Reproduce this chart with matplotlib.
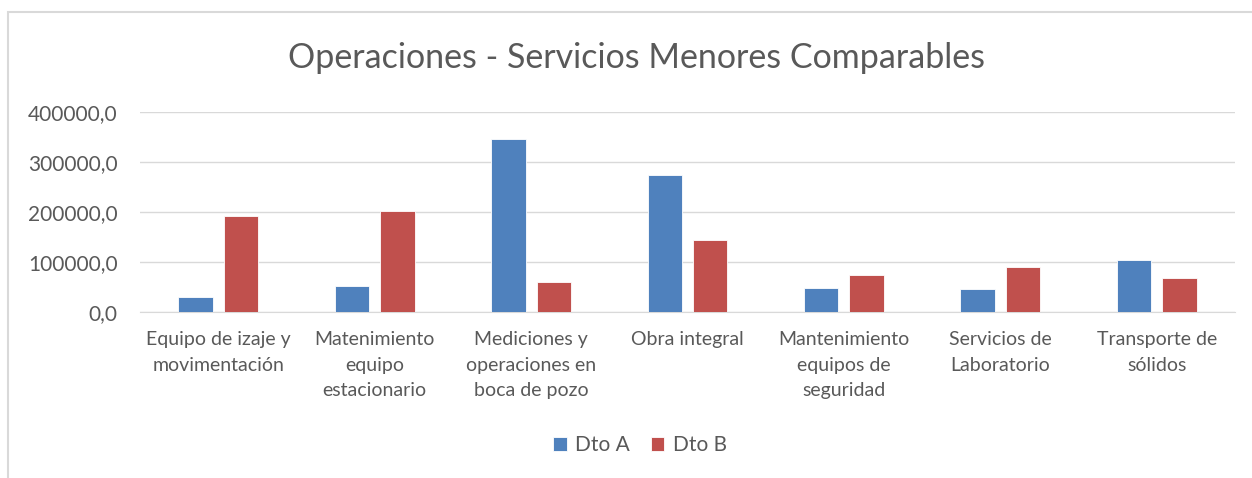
import numpy as np
import matplotlib.pyplot as plt
from matplotlib.patches import Rectangle

plt.rcParams['font.family'] = ['Lato', 'DejaVu Sans']

categorias = ["Equipo de izaje y\nmovimentación",
              "Matenimiento\nequipo\nestacionario",
              "Mediciones y\noperaciones en\nboca de pozo",
              "Obra integral",
              "Mantenimiento\nequipos de\nseguridad",
              "Servicios de\nLaboratorio",
              "Transporte de\nsólidos"]
dto_a = [31000, 52000, 345000, 273000, 49000, 46500, 103500]
dto_b = [191000, 201000, 60000, 144000, 75000, 90500, 68000]
yticks = [0, 100000, 200000, 300000, 400000]

gris = "#595959"
azul = "#4F81BD"
rojo = "#C0504D"

fig = plt.figure(figsize=(12.52, 4.78), dpi=100)
# marco del grafico
fig.patches.append(Rectangle((8/1252, -0.1), 1.2, 1 - 12/478 + 0.1, transform=fig.transFigure,
                             fill=False, edgecolor="#D9D9D9", linewidth=1.5))

ax = fig.add_axes([140/1252, 1 - 312/478, 1095/1252, 200/478])
x = np.arange(len(categorias))
w = 0.22
ax.bar(x - 0.145, dto_a, w, color=azul, edgecolor="white", linewidth=0.6, label="Dto A", zorder=3)
ax.bar(x + 0.145, dto_b, w, color=rojo, edgecolor="white", linewidth=0.6, label="Dto B", zorder=3)

ax.set_xlim(-0.5, len(categorias) - 0.5)
ax.set_ylim(0, 400000)
ax.set_yticks(yticks)
ax.set_yticklabels([f"{v:.1f}".replace(".", ",") for v in yticks])
ax.set_xticks(x)
ax.set_xticklabels(categorias, linespacing=1.6)
ax.tick_params(axis="y", length=0, pad=16, labelsize=15, labelcolor=gris)
ax.tick_params(axis="x", length=0, pad=14, labelsize=14, labelcolor=gris)
ax.grid(axis="y", color="#D9D9D9", linewidth=1, zorder=0)
for s in ["top", "right", "left"]:
    ax.spines[s].set_visible(False)
ax.spines["bottom"].set_color("#D9D9D9")

fig.text(0.508, 1 - 58/478, "Operaciones - Servicios Menores Comparables", ha="center", va="center",
         fontsize=24.5, color=gris)

fig.legend(loc="center", bbox_to_anchor=(640/1252, 1 - 445/478), ncol=2, frameon=False,
           fontsize=15, labelcolor=gris, handlelength=0.65, handleheight=0.65,
           handletextpad=0.4, columnspacing=1.0)

fig.savefig("out.png", dpi=100)
